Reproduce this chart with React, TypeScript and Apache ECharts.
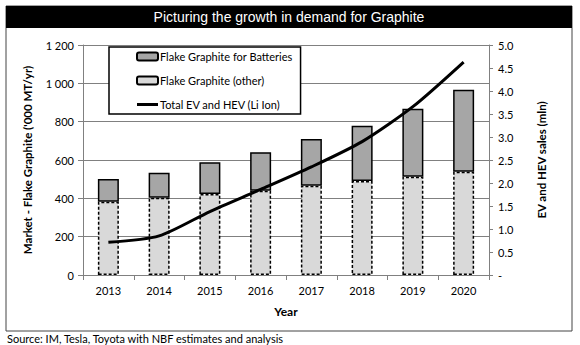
import React, { useEffect, useRef } from "react";
import * as echarts from "echarts";

const years = ["2013", "2014", "2015", "2016", "2017", "2018", "2019", "2020"];
const flakeOther = [382, 403, 422, 440, 466, 491, 513, 539];
const flakeBatteries = [119, 131, 166, 201, 243, 288, 355, 428];
const evHevSales = [0.71, 0.85, 1.38, 1.86, 2.35, 2.9, 3.66, 4.63];

const FONT = "Lato";

export default function App() {
  const ref = useRef<HTMLDivElement>(null);
  useEffect(() => {
    if (!ref.current) return;
    const chart = echarts.init(ref.current, undefined, { renderer: "svg" });
    chart.setOption({
      animation: false,
      backgroundColor: "#fff",
      textStyle: { fontFamily: FONT },
      grid: { left: 83, right: 91, top: 45, bottom: 70, containLabel: false },
      legend: {
        orient: "vertical",
        left: 109,
        top: 47,
        width: 209,
        padding: [4, 8, 4, 27],
        itemGap: 13,
        itemWidth: 21,
        itemHeight: 8,
        backgroundColor: "#fff",
        borderColor: "#000",
        borderWidth: 1.5,
        textStyle: { fontFamily: FONT, fontSize: 11, color: "#000", padding: [0, 0, 0, -3] },
        data: [
          { name: "Flake Graphite for Batteries" },
          { name: "Flake Graphite (other)" },
          {
            name: "Total EV and HEV (Li Ion)",
            icon: "path://M0 0h21v3H0z",
            itemStyle: { color: "#000", borderWidth: 0 },
          },
        ],
      },
      graphic: [
        {
          type: "rect",
          shape: { x: 6, y: 6, width: 566, height: 325 },
          style: { fill: "none", stroke: "#444", lineWidth: 1 },
          z: 0,
        },
        {
          type: "rect",
          shape: { x: 6, y: 6, width: 566, height: 22 },
          style: { fill: "#000" },
        },
        {
          type: "text",
          x: 289,
          y: 17,
          style: {
            text: "Picturing the growth in demand for Graphite",
            fill: "#fff",
            fontFamily: "Liberation Sans",
            fontSize: 14,
            align: "center",
            verticalAlign: "middle",
          },
        },
        {
          type: "text",
          x: 7,
          y: 338,
          style: {
            text: "Source: IM, Tesla, Toyota with NBF estimates and analysis",
            fill: "#000",
            fontFamily: FONT,
            fontSize: 11,
            align: "left",
            verticalAlign: "middle",
          },
        },
      ],
      xAxis: {
        type: "category",
        data: years,
        name: "Year",
        nameLocation: "middle",
        nameGap: 30,
        nameTextStyle: { fontFamily: FONT, fontSize: 12, fontWeight: "bold", color: "#000" },
        axisLine: { lineStyle: { color: "#808080" } },
        axisTick: { show: true, alignWithLabel: false, length: 5, lineStyle: { color: "#808080" } },
        axisLabel: { color: "#000", fontSize: 11, margin: 10, fontFamily: FONT },
      },
      yAxis: [
        {
          type: "value",
          min: 0,
          max: 1200,
          interval: 200,
          name: "Market - Flake Graphite ('000 MT/yr)",
          nameLocation: "middle",
          nameGap: 50,
          nameTextStyle: { fontFamily: FONT, fontSize: 11.5, fontWeight: "bold", color: "#000" },
          axisLine: { show: true, lineStyle: { color: "#808080" } },
          axisTick: { show: true, length: 5, lineStyle: { color: "#808080" } },
          axisLabel: {
            color: "#000",
            fontSize: 11,
            margin: 9,
            fontFamily: FONT,
            formatter: (v: number) => (v >= 1000 ? `${Math.floor(v / 1000)} ${String(v % 1000).padStart(3, "0")}` : String(v)),
          },
          splitLine: { show: true, lineStyle: { color: "#808080", width: 1 } },
        },
        {
          type: "value",
          min: 0,
          max: 5,
          interval: 0.5,
          position: "right",
          name: "EV and HEV sales (mln)",
          nameLocation: "middle",
          nameGap: 46,
          nameTextStyle: { fontFamily: FONT, fontSize: 11.5, fontWeight: "bold", color: "#000" },
          axisLine: { show: true, lineStyle: { color: "#808080" } },
          axisTick: { show: true, length: 4, lineStyle: { color: "#808080" } },
          axisLabel: {
            color: "#000",
            fontSize: 11,
            margin: 9,
            fontFamily: FONT,
            formatter: (v: number) => (v === 0 ? "-" : v.toFixed(1)),
          },
          splitLine: { show: false },
        },
      ],
      series: [
        {
          name: "Flake Graphite (other)",
          type: "bar",
          stack: "g",
          data: flakeOther,
          barWidth: 21,
          itemStyle: { color: "#d9d9d9", borderColor: "#000", borderWidth: 1.5, borderType: [3, 2] },
        },
        {
          name: "Flake Graphite for Batteries",
          type: "bar",
          stack: "g",
          data: flakeBatteries,
          barWidth: 21,
          itemStyle: { color: "#a6a6a6", borderColor: "#000", borderWidth: 1.5 },
        },
        {
          name: "Total EV and HEV (Li Ion)",
          type: "line",
          yAxisIndex: 1,
          data: evHevSales,
          smooth: 0.25,
          showSymbol: false,
          symbol: "none",
          lineStyle: { color: "#000", width: 3 },
          itemStyle: { color: "#000" },
          z: 5,
        },
      ],
    });
    return () => chart.dispose();
  }, []);
  return (
    <div
      ref={ref}
      style={{ position: "fixed", left: 0, top: 0, width: 580, height: 345, background: "#fff" }}
    />
  );
}
